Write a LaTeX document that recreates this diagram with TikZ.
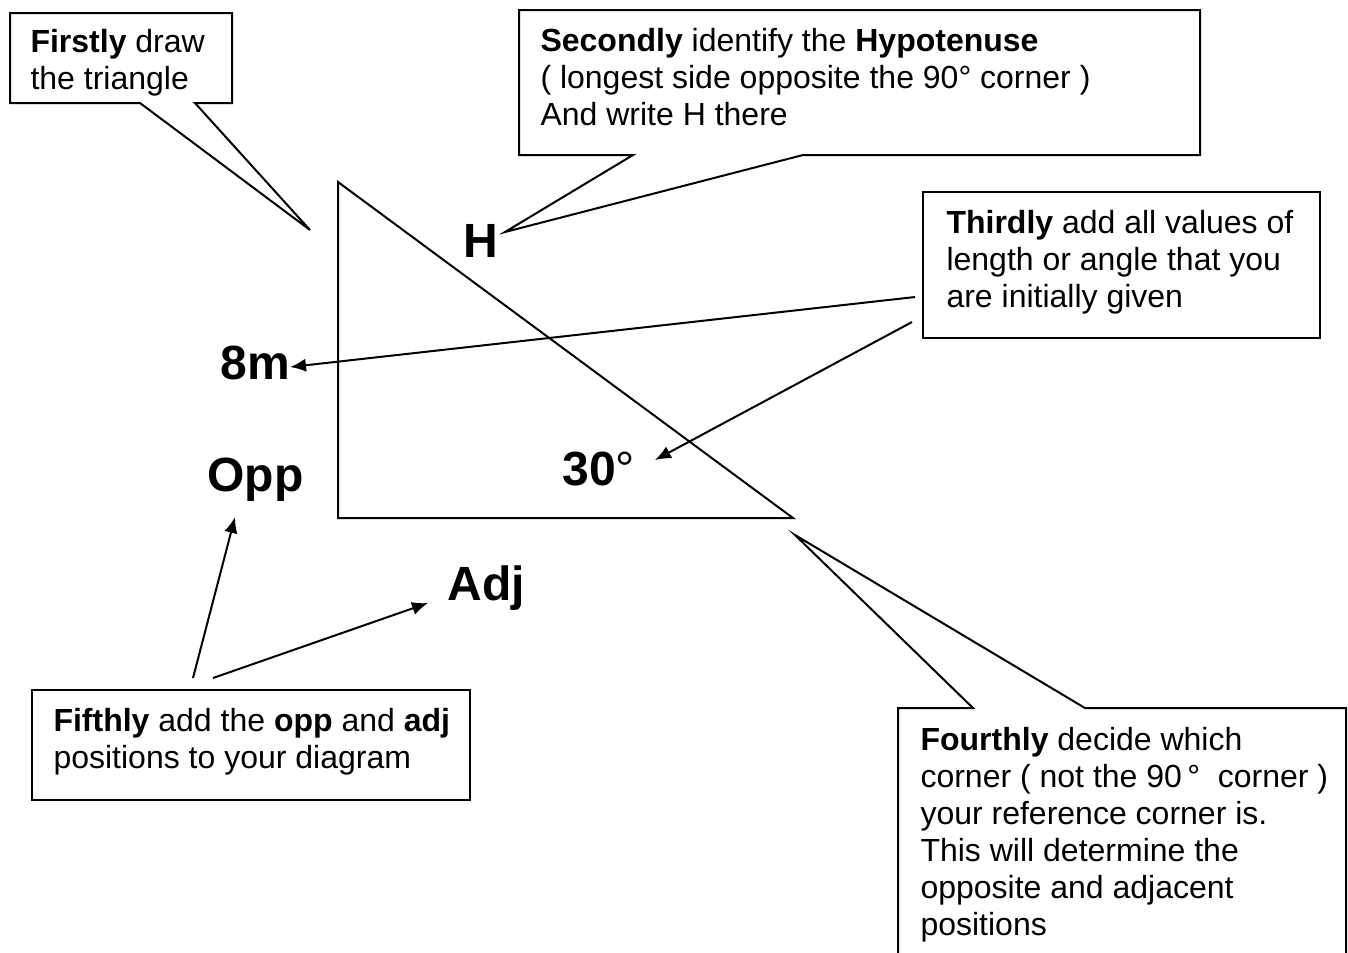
\documentclass[tikz,border=0pt]{standalone}
\usepackage{fontspec}
\setmainfont{Liberation Sans}
\usetikzlibrary{arrows.meta}
\tikzset{
  callout/.style={draw=black,fill=white,line width=0.75pt,line join=miter},
  boxtext/.style={anchor=base west,inner sep=0pt,font=\fontsize{12}{13.875}\selectfont},
  biglabel/.style={anchor=base west,inner sep=0pt,font=\fontsize{18}{21}\selectfont\bfseries},
  pointer/.style={line width=0.75pt,-{Latex[length=6pt,width=5pt]}},
  tri/.style={line width=0.75pt,line join=miter}
}
\newcommand{\boxlines}[1]{\vtop{\baselineskip=13.875pt\lineskiplimit=-10pt #1}}
\begin{document}
\begin{tikzpicture}[x=0.375pt,y=-0.375pt]
\useasboundingbox (0,0) rectangle (1348,952);
\clip (0,0) rectangle (1348,952);
% triangle
\draw[tri] (338,182) -- (338,518) -- (793,518) -- cycle;
% callout 1
\draw[callout] (10,13) -- (232,13) -- (232,103) -- (195,103) -- (310,230) -- (140,103) -- (10,103) -- cycle;
\node[boxtext] (t1) at (30,52) {\boxlines{\hbox{\textbf{Firstly} draw}\hbox{the triangle}}};
% labels
\node[biglabel] (H) at (463,257) {H};
\node[biglabel] (len) at (220,379) {8m};
\node[biglabel] (opp) at (207,491) {Opp};
\node[biglabel] (ang) at (562,485) {30\mdseries°};
\node[biglabel] (adj) at (447,600) {Adj};
% callout 2
\draw[callout] (519,10) -- (1200,10) -- (1200,155) -- (803,155) -- (505,232) -- (633,155) -- (519,155) -- cycle;
\node[boxtext] (t2) at (540,51) {\boxlines{\hbox{\textbf{Secondly} identify the \textbf{Hypotenuse}}\hbox{( longest side opposite the 90° corner )}\hbox{And write H there}}};
% callout 3
\draw[callout] (923,192) rectangle (1320,338);
\node[boxtext] (t3) at (946,233) {\boxlines{\hbox{\textbf{Thirdly} add all values of}\hbox{length or angle that you}\hbox{are initially given}}};
\coordinate (s3a) at (915,297);
\coordinate (s3b) at (912,322);
\draw[pointer] (s3a) -- (290,367);
\draw[pointer] (s3b) -- (655,460);
% callout 4
\draw[callout] (898,970) -- (898,708) -- (973,708) -- (795,535) -- (1085,708) -- (1346,708) -- (1346,970);
\node[boxtext] (t4) at (920,750) {\boxlines{\hbox{\textbf{Fourthly} decide which}\hbox{corner ( not the 90\,°\ \ corner )}\hbox{your reference corner is.}\hbox{This will determine the}\hbox{opposite and adjacent}\hbox{positions}}};
% callout 5
\draw[callout] (32,690) rectangle (470,800);
\node[boxtext] (t5) at (53,731) {\boxlines{\hbox{\textbf{Fifthly} add the \textbf{opp} and \textbf{adj}}\hbox{positions to your diagram}}};
\coordinate (s5a) at (193,678);
\coordinate (s5b) at (213,678);
\draw[pointer] (s5a) -- (235,517);
\draw[pointer] (s5b) -- (428,603);
\end{tikzpicture}
\end{document}
